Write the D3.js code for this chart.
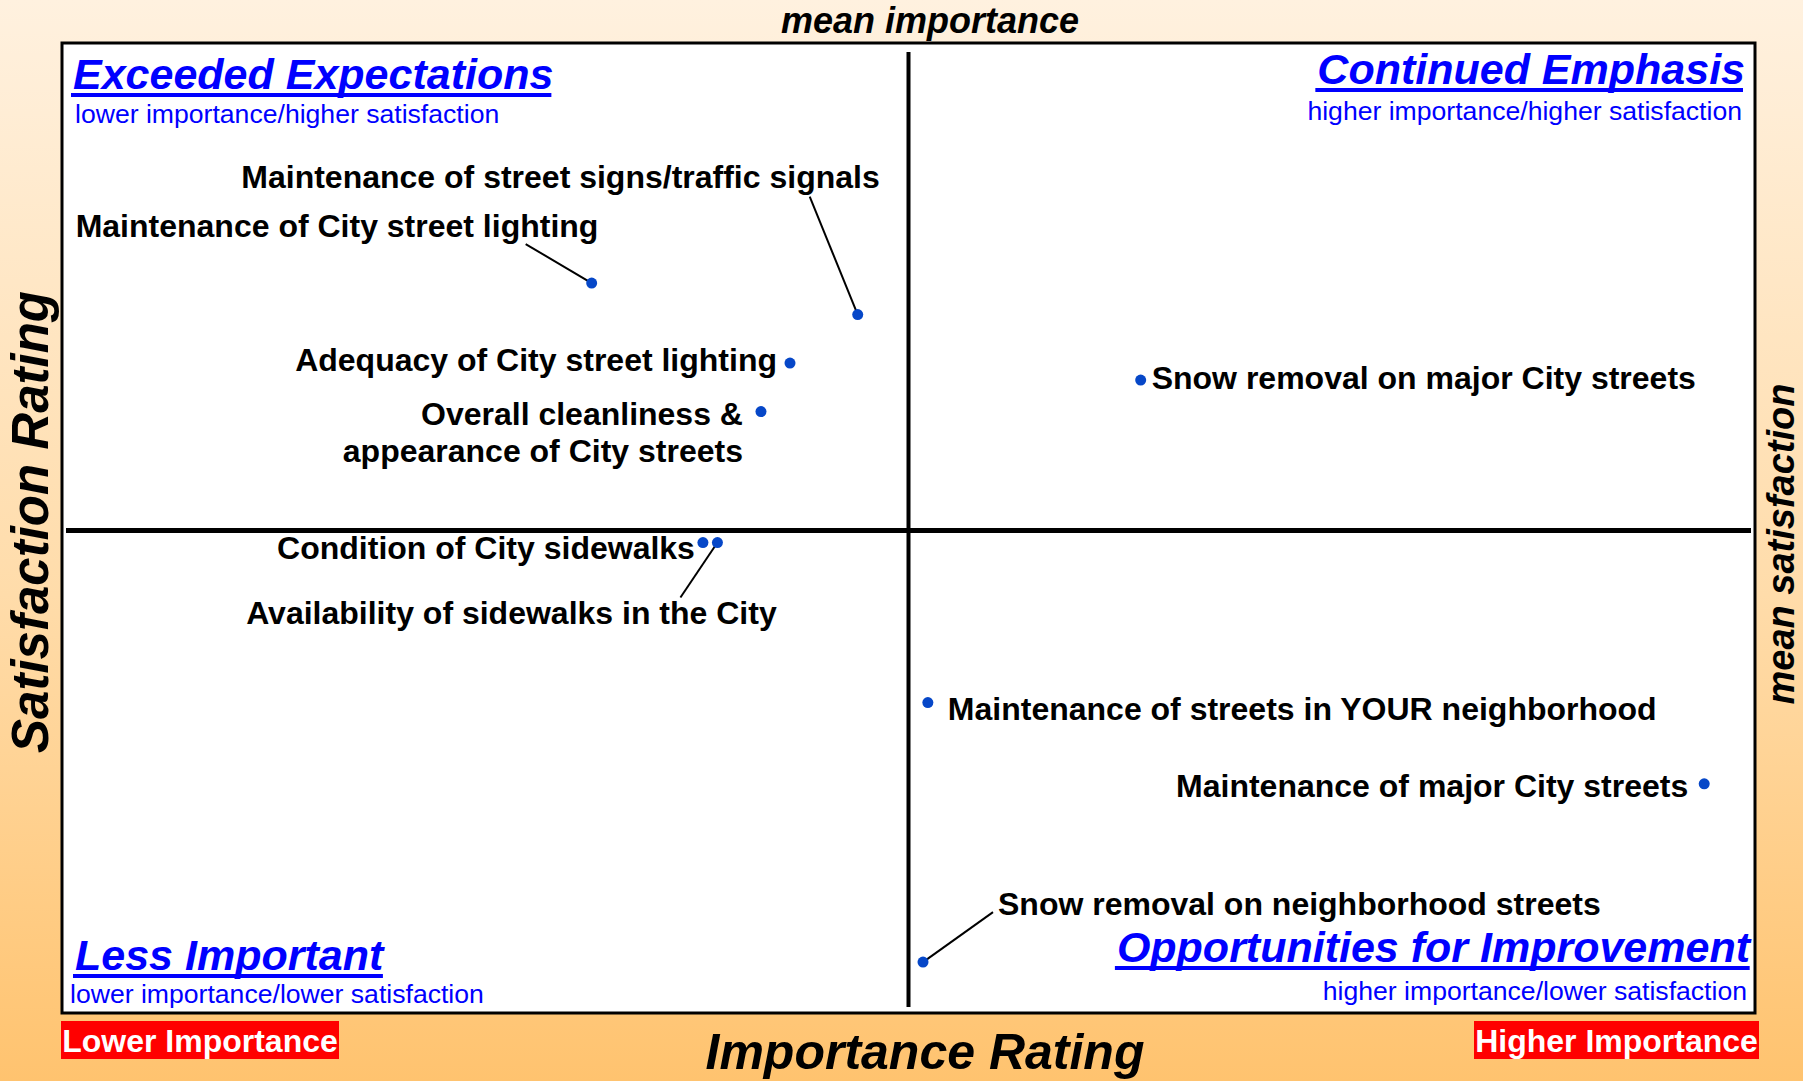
<!DOCTYPE html>
<html>
<head>
<meta charset="utf-8">
<title>Importance-Satisfaction Matrix</title>
<script src="https://d3js.org/d3.v7.min.js"></script>
<style>
  body { margin: 0; }
  svg { display: block; font-family: "Liberation Sans", Arial, sans-serif; }
</style>
</head>
<body>
<svg id="chart" width="1803" height="1081"></svg>
<script>
// services rated, importance (% ranking as priority) and satisfaction (% satisfied)
var services = [
  'Maintenance of City street lighting',
  'Maintenance of street signs/traffic signals',
  'Adequacy of City street lighting',
  'Overall cleanliness &|appearance of City streets',
  'Snow removal on major City streets',
  'Condition of City sidewalks',
  'Availability of sidewalks in the City',
  'Maintenance of streets in YOUR neighborhood',
  'Maintenance of major City streets',
  'Snow removal on neighborhood streets'
];
var importance   = [21.9, 32.9, 30.1, 28.9, 44.6, 26.5, 27.1, 35.8, 67.9, 35.6];
var satisfaction = [70.2, 67.6, 63.6, 59.6, 62.2, 48.8, 48.8, 35.6, 28.9, 14.2];
var meanImportance = 35.0;
var meanSatisfaction = 49.8;

var quadrantTitles = ['Exceeded Expectations', 'Continued Emphasis', 'Less Important', 'Opportunities for Improvement'];
var quadrantSubtitles = ['lower importance/higher satisfaction', 'higher importance/higher satisfaction',
  'lower importance/lower satisfaction', 'higher importance/lower satisfaction'];

// label placement relative to each dot (anchor, dx, dy, optional leader end)
var labelLayout = [
  { anchor: 'start',  dx: -516, dy: -46,  leader: [-66, -39] },
  { anchor: 'end',    dx: 22,   dy: -127, leader: [-48, -118] },
  { anchor: 'end',    dx: -13,  dy: 8 },
  { anchor: 'end',    dx: -18,  dy: 13 },
  { anchor: 'start',  dx: 11,   dy: 9 },
  { anchor: 'end',    dx: -8,   dy: 16 },
  { anchor: 'middle', dx: -206, dy: 81,   leader: [-37, 55] },
  { anchor: 'start',  dx: 20,   dy: 17 },
  { anchor: 'end',    dx: -16,  dy: 13 },
  { anchor: 'start',  dx: 75,   dy: -47,  leader: [70, -50] }
];

var svg = d3.select('#chart');
var W = 1803, H = 1081;
var box = { left: 62, top: 43, right: 1755, bottom: 1013 };

var x = d3.scaleLinear().domain([0, 70]).range([box.left, box.right]);
var y = d3.scaleLinear().domain([10, 90]).range([box.bottom, box.top]);

// background gradient
var defs = svg.append('defs');
var grad = defs.append('linearGradient').attr('id', 'bg').attr('x1', 0).attr('y1', 0).attr('x2', 0).attr('y2', 1);
grad.append('stop').attr('offset', '0%').attr('stop-color', '#fff1df');
grad.append('stop').attr('offset', '55%').attr('stop-color', '#ffdcaa');
grad.append('stop').attr('offset', '100%').attr('stop-color', '#ffc36f');
svg.append('rect').attr('width', W).attr('height', H).attr('fill', 'url(#bg)');

// plot area
svg.append('rect')
  .attr('x', box.left).attr('y', box.top)
  .attr('width', box.right - box.left).attr('height', box.bottom - box.top)
  .attr('fill', '#fff').attr('stroke', '#000').attr('stroke-width', 3);

// mean lines
svg.append('line')
  .attr('x1', x(meanImportance)).attr('x2', x(meanImportance))
  .attr('y1', box.top + 9).attr('y2', box.bottom - 6)
  .attr('stroke', '#000').attr('stroke-width', 4);
svg.append('line')
  .attr('x1', box.left + 4).attr('x2', box.right - 4)
  .attr('y1', y(meanSatisfaction)).attr('y2', y(meanSatisfaction))
  .attr('stroke', '#000').attr('stroke-width', 5);

// quadrant titles with underline
var titlePos = [
  { x: 73, y: 89, anchor: 'start', sx: 75, sy: 123 },
  { x: 1745, y: 84, anchor: 'end', sx: 1742, sy: 120 },
  { x: 75, y: 970, anchor: 'start', sx: 70, sy: 1003 },
  { x: 1750, y: 962, anchor: 'end', sx: 1747, sy: 1000 }
];
quadrantTitles.forEach(function(t, i) {
  var p = titlePos[i];
  var txt = svg.append('text')
    .attr('x', p.x).attr('y', p.y)
    .attr('text-anchor', p.anchor)
    .attr('font-size', 43).attr('font-weight', 'bold').attr('font-style', 'italic')
    .attr('fill', '#0000ff')
    .text(t);
  var bb = txt.node().getBBox();
  svg.append('rect')
    .attr('x', bb.x - 2).attr('y', p.y + 4)
    .attr('width', bb.width).attr('height', 4)
    .attr('fill', '#0000ff');
  svg.append('text')
    .attr('x', p.sx).attr('y', p.sy)
    .attr('text-anchor', p.anchor)
    .attr('font-size', 26.6)
    .attr('fill', '#0000ff')
    .text(quadrantSubtitles[i]);
});

// leader lines
svg.selectAll('line.leader')
  .data(labelLayout.map(function(l, i) { return { l: l, i: i }; }).filter(function(d) { return d.l.leader; }))
  .enter().append('line')
    .attr('class', 'leader')
    .attr('x1', function(d) { return x(importance[d.i]); })
    .attr('y1', function(d) { return y(satisfaction[d.i]); })
    .attr('x2', function(d) { return x(importance[d.i]) + d.l.leader[0]; })
    .attr('y2', function(d) { return y(satisfaction[d.i]) + d.l.leader[1]; })
    .attr('stroke', '#000').attr('stroke-width', 2);

// points
svg.selectAll('circle')
  .data(services)
  .enter().append('circle')
    .attr('cx', function(d, i) { return x(importance[i]); })
    .attr('cy', function(d, i) { return y(satisfaction[i]); })
    .attr('r', 5.5)
    .attr('fill', '#0647c8');

// labels
var labels = svg.selectAll('text.label')
  .data(services)
  .enter().append('text')
    .attr('class', 'label')
    .attr('x', function(d, i) { return x(importance[i]) + labelLayout[i].dx; })
    .attr('y', function(d, i) { return y(satisfaction[i]) + labelLayout[i].dy; })
    .attr('text-anchor', function(d, i) { return labelLayout[i].anchor; })
    .attr('font-size', 32).attr('font-weight', 'bold')
    .attr('fill', '#000');
labels.each(function(d) {
  var el = d3.select(this);
  var parts = d.split('|');
  var x0 = el.attr('x');
  parts.forEach(function(p, k) {
    el.append('tspan').attr('x', x0).attr('dy', k === 0 ? 0 : 37).text(p);
  });
});

// axis titles
svg.append('text')
  .attr('x', 930).attr('y', 33)
  .attr('text-anchor', 'middle')
  .attr('font-size', 36).attr('font-weight', 'bold').attr('font-style', 'italic')
  .text('mean importance');
svg.append('text')
  .attr('x', 925).attr('y', 1069)
  .attr('text-anchor', 'middle')
  .attr('font-size', 50).attr('font-weight', 'bold').attr('font-style', 'italic')
  .text('Importance Rating');
svg.append('text')
  .attr('transform', 'translate(48,522) rotate(-90)')
  .attr('text-anchor', 'middle')
  .attr('font-size', 51).attr('font-weight', 'bold').attr('font-style', 'italic')
  .text('Satisfaction Rating');
svg.append('text')
  .attr('transform', 'translate(1794,544) rotate(-90)')
  .attr('text-anchor', 'middle')
  .attr('font-size', 38).attr('font-weight', 'bold').attr('font-style', 'italic')
  .text('mean satisfaction');

// importance end tags
var tags = [
  { text: 'Lower Importance', x: 61, w: 278 },
  { text: 'Higher Importance', x: 1474, w: 285 }
];
tags.forEach(function(t) {
  svg.append('rect').attr('x', t.x).attr('y', 1021).attr('width', t.w).attr('height', 38).attr('fill', '#ff0000');
  svg.append('text')
    .attr('x', t.x + t.w / 2).attr('y', 1052)
    .attr('text-anchor', 'middle')
    .attr('font-size', 32).attr('font-weight', 'bold')
    .attr('fill', '#fff')
    .text(t.text);
});
</script>
</body>
</html>
